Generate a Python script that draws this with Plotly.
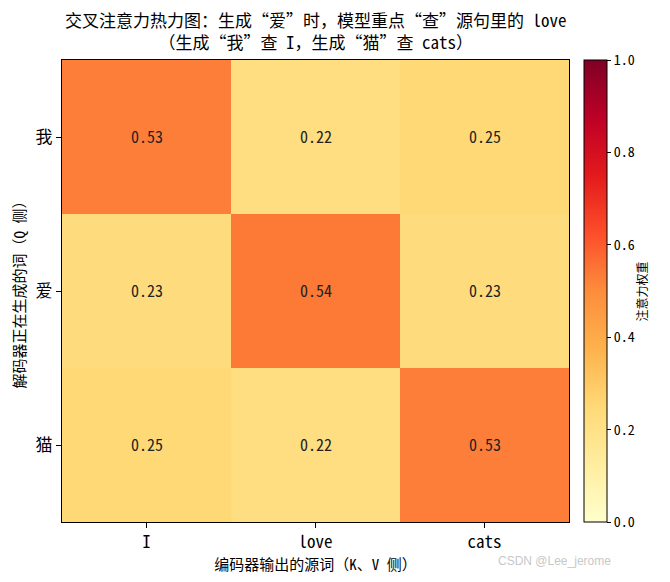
import plotly.graph_objects as go

# attention weights: rows = decoder words (Q), cols = encoder source words (K, V)
src_words = ['I', 'love', 'cats']
tgt_words = ['我', '爱', '猫']
weights = [
    [0.53, 0.22, 0.25],
    [0.23, 0.54, 0.23],
    [0.25, 0.22, 0.53],
]
cbar_ticks = [0.0, 0.2, 0.4, 0.6, 0.8, 1.0]

FONT = 'Noto Sans Mono CJK SC, DejaVu Sans Mono, Noto Sans CJK SC'

ylorrd = ['#ffffcc', '#ffeda0', '#fed976', '#feb24c', '#fd8d3c',
          '#fc4e2a', '#e31a1c', '#bd0026', '#800026']
cscale = [[i / (len(ylorrd) - 1), c] for i, c in enumerate(ylorrd)]

fig = go.Figure()
fig.add_trace(go.Heatmap(
    z=weights, x=src_words, y=tgt_words,
    zmin=0, zmax=1, colorscale=cscale,
    texttemplate='%{z:.2f}',
    textfont=dict(size=16, color='#222222', family=FONT),
    colorbar=dict(
        x=1.0296, xanchor='left', xpad=0, y=0.5, yanchor='middle', ypad=0,
        len=1, lenmode='fraction', thickness=23,
        outlinewidth=1, outlinecolor='black',
        tickvals=cbar_ticks, ticktext=[f'{t:.1f}' for t in cbar_ticks],
        ticks='outside', ticklen=4, tickcolor='black',
        tickfont=dict(size=14, family=FONT, color='black'),
    ),
))

fig.update_xaxes(
    automargin=False,
    showline=True, mirror=True, linecolor='black', linewidth=1,
    ticks='outside', ticklen=5, tickcolor='black',
    tickfont=dict(size=17, family=FONT, color='black'),
    title=dict(text='编码器输出的源词（K、V 侧）', standoff=4,
               font=dict(size=15, family=FONT, color='black')),
)
fig.update_yaxes(
    automargin=False, autorange='reversed',
    showline=True, mirror=True, linecolor='black', linewidth=1,
    ticks='outside', ticklen=5, tickcolor='black',
    tickfont=dict(size=17, family=FONT, color='black'),
    title=dict(text='解码器正在生成的词（Q 侧）', standoff=8,
               font=dict(size=15, family=FONT, color='black')),
)

# two-line title as one annotation
fig.add_annotation(text='交叉注意力热力图：生成“爱”时，模型重点“查”源句里的 love'
                        '<br>（生成“我”查 I，生成“猫”查 cats）',
                   x=0.5, y=1.0628, xref='paper', yref='paper', showarrow=False,
                   yanchor='middle', align='center',
                   font=dict(size=17, family=FONT, color='black'))
fig.add_annotation(text='注意力权重', textangle=-90, x=1.1637, y=0.5,
                   xref='paper', yref='paper', showarrow=False,
                   font=dict(size=12, family=FONT, color='black'))
fig.add_annotation(text='CSDN @Lee_jerome', x=1.0868, y=-0.104,
                   xref='paper', yref='paper', showarrow=False,
                   font=dict(size=12, family='Liberation Sans', color='#c8c8c8'))

# page body has an 8px margin, so the figure is 16px smaller than the window
fig.update_layout(
    width=654, height=566,
    margin=dict(l=54, r=93, t=52, b=52),
    paper_bgcolor='white', plot_bgcolor='white',
    font=dict(family=FONT, color='black'),
)

fig.write_html('out.html')
